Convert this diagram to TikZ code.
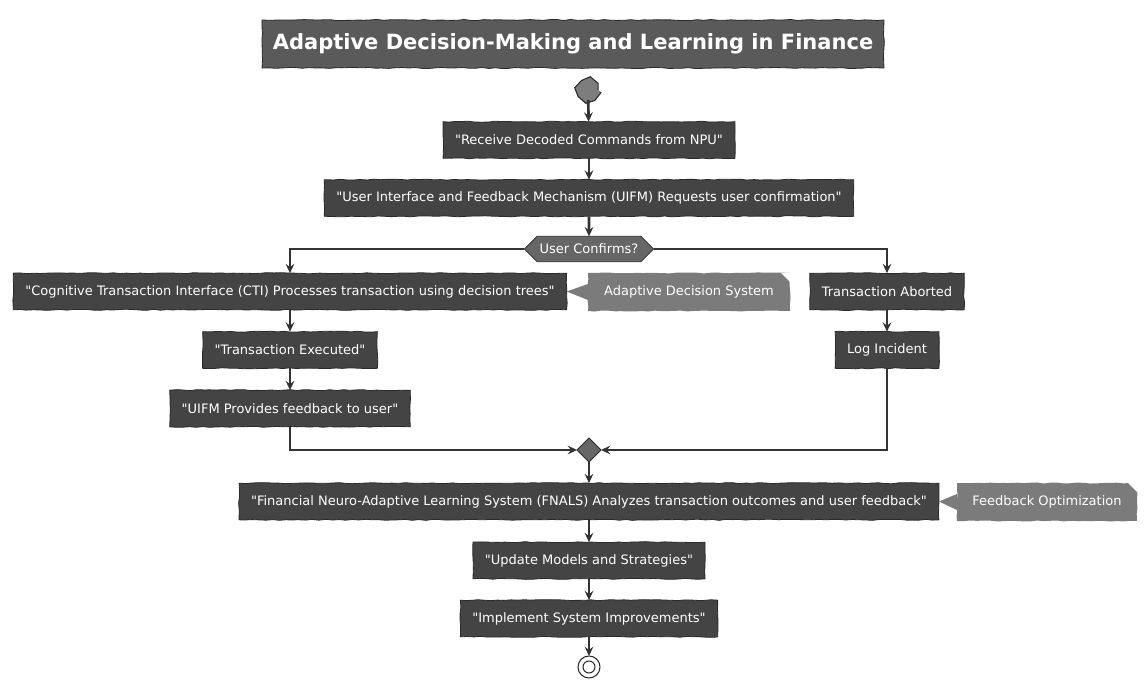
\documentclass[tikz,border=0pt]{standalone}
\usepackage{fontspec}
\setmainfont{DejaVu Sans}[Ligatures=TeXOff]
\usetikzlibrary{arrows.meta,shapes.geometric,shapes.symbols,decorations.pathmorphing}
\definecolor{actfill}{HTML}{444444}
\definecolor{titlefill}{HTML}{5A5A5A}
\definecolor{notefill}{HTML}{7B7B7B}
\definecolor{decfill}{HTML}{666666}
\definecolor{linecol}{HTML}{333333}
\definecolor{edgecol}{HTML}{2A2A2A}
\begin{document}
\begin{tikzpicture}[x=0.75pt,y=-0.75pt,inner sep=0pt,outer sep=0pt,line width=2pt,draw=linecol,
>={Stealth[length=7pt,width=6.5pt,inset=2.5pt]},
rough/.style={decorate,decoration={random steps,segment length=5pt,amplitude=0.4pt}},
actbox/.style={draw=edgecol,line width=0.6pt,fill=actfill,text=white,font=\fontsize{9.75}{12}\selectfont,inner xsep=9pt,minimum height=27.5pt,rough},
titlebox/.style={draw=edgecol,line width=0.6pt,fill=titlefill,text=white,font=\bfseries\fontsize{15.75}{19}\selectfont,minimum width=466.5pt,minimum height=36pt,rough},
notebox/.style={fill=notefill,text=white,font=\fontsize{9.75}{12}\selectfont,minimum height=28.5pt,rough},
decbox/.style={signal,signal to=west and east,draw=edgecol,line width=0.6pt,fill=decfill,text=white,font=\fontsize{9.75}{12}\selectfont,minimum width=97pt,minimum height=19pt},
mergebox/.style={diamond,aspect=1,draw=edgecol,line width=0.6pt,fill=decfill,minimum size=18pt},
startdot/.style={circle,draw=edgecol,line width=0.8pt,fill=decfill!85!white,minimum size=15pt,rough},
enddot/.style={circle,draw=edgecol,line width=0.8pt,fill=white,minimum size=16.5pt}]
\pgfmathsetseed{7}
\useasboundingbox (0,0) rectangle (1147,691);
\draw (573,44) node[titlebox] (title) {Adaptive Decision-Making and Learning in Finance};
\draw (588,90) node[startdot] (start) {};
\draw (589,140) node[actbox] (recv) {"Receive Decoded Commands from NPU"};
\draw (589,198) node[actbox] (uifm) {"User Interface and Feedback Mechanism (UIFM) Requests user confirmation"};
\draw (589,249) node[decbox] (dec) {User Confirms?};
\draw (290,291.5) node[actbox] (cti) {"Cognitive Transaction Interface (CTI) Processes transaction using decision trees"};
\draw (689,292) node[notebox,minimum width=151.5pt] (nadapt) {Adaptive Decision System};
\draw (887,291.5) node[actbox] (abort) {Transaction Aborted};
\draw (290,350) node[actbox] (exec) {"Transaction Executed"};
\draw (887,350) node[actbox] (logi) {Log Incident};
\draw (290,408.5) node[actbox] (fbk) {"UIFM Provides feedback to user"};
\draw (589,450) node[mergebox] (merge) {};
\draw (589,501.5) node[actbox] (fnals) {"Financial Neuro-Adaptive Learning System (FNALS) Analyzes transaction outcomes and user feedback"};
\draw (1047,502) node[notebox,minimum width=135pt] (nfeed) {Feedback Optimization};
\draw (589,560.5) node[actbox] (upd) {"Update Models and Strategies"};
\draw (589,618.5) node[actbox] (impl) {"Implement System Improvements"};
\draw (589,667) node[enddot] (fin) {};
\draw[line width=0.8pt,draw=edgecol] (fin) circle (4.5pt);
\fill[notefill] ([yshift=6pt]nadapt.west) -- (cti.east) -- ([yshift=-6pt]nadapt.west) -- cycle;
\fill[white] (nadapt.north east) -- ++(-9,0) -- ++(9,9) -- cycle;
\fill[notefill] ([yshift=6pt]nfeed.west) -- (fnals.east) -- ([yshift=-6pt]nfeed.west) -- cycle;
\fill[white] (nfeed.north east) -- ++(-9,0) -- ++(9,9) -- cycle;
\draw[->] (start) -- (recv);
\draw[->] (recv) -- (uifm);
\draw[->] (uifm) -- (dec);
\draw[->] (dec.west) -| (cti.north);
\draw[->] (dec.east) -| (abort.north);
\draw[->] (cti) -- (exec);
\draw[->] (exec) -- (fbk);
\draw[->] (abort) -- (logi);
\draw[->] (fbk.south) |- (merge.west);
\draw[->] (logi.south) |- (merge.east);
\draw[->] (merge) -- (fnals);
\draw[->] (fnals) -- (upd);
\draw[->] (upd) -- (impl);
\draw[->] (impl) -- (fin);
\end{tikzpicture}
\end{document}
